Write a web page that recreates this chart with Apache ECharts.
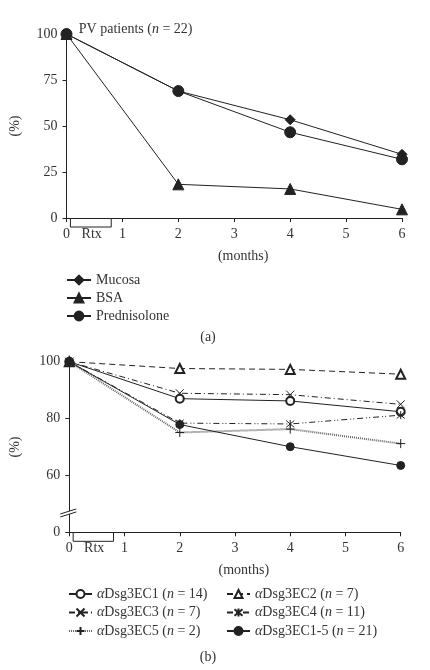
<!DOCTYPE html>
<html><head><meta charset="utf-8">
<script src="https://cdn.jsdelivr.net/npm/echarts@6/dist/echarts.min.js"></script>
<style>html,body{margin:0;padding:0;background:#fff}#c{width:430px;height:670px}</style>
</head><body><div id="c"></div>
<script>
// ---- data: panel (a)
const monthsA = [0, 2, 4, 6];
const mucosa = [100, 69, 53.4, 34.6];
const bsa = [100, 18.3, 15.8, 4.7];
const prednisolone = [100, 69, 46.6, 31.9];
const legendA = ['Mucosa', 'BSA', 'Prednisolone'];

// ---- data: panel (b)
const monthsB = [0, 2, 4, 6];
const ec1 = [100, 87.0, 86.2, 82.4];
const ec2 = [100, 97.6, 97.3, 95.6];
const ec3 = [100, 88.9, 88.4, 85.0];
const ec4 = [100, 78.4, 78.1, 81.2];
const ec5 = [100, 75.1, 76.3, 71.2];
const ec15 = [100, 77.9, 70.1, 63.5];
const namesB = ['αDsg3EC1 (n = 14)', 'αDsg3EC2 (n = 7)', 'αDsg3EC3 (n = 7)',
                'αDsg3EC4 (n = 11)', 'αDsg3EC5 (n = 2)', 'αDsg3EC1-5 (n = 21)'];

// ---- ticks / labels
const xTicks = [0, 1, 2, 3, 4, 5, 6];
const yTicksA = [0, 25, 50, 75, 100];
const yTicksB = [40, 60, 80, 100];   // 40 is shown as "0" (broken axis)
const yTickLabelsB = ['0', '60', '80', '100'];
const xName = '(months)';
const yName = '(%)';
const rtxLabel = 'Rtx';
const panelLabels = ['(a)', '(b)'];

const FONT = '"Liberation Serif", "DejaVu Serif", serif';
const TXT = '#333';
const LINE = '#222';

const pairs = (xs, ys) => xs.map((x, i) => [x, ys[i]]);

const axisCommon = {
  axisLine: { lineStyle: { color: LINE, width: 1 } },
  axisTick: { show: true, inside: false, length: 4, lineStyle: { color: LINE } },
  splitLine: { show: false },
  nameTextStyle: { fontFamily: FONT, fontSize: 14, color: TXT }
};

function xAxis(gi) {
  return Object.assign({}, axisCommon, {
    type: 'value', gridIndex: gi, min: xTicks[0], max: xTicks[xTicks.length - 1], interval: 1,
    axisLabel: { fontFamily: FONT, fontSize: 14, color: TXT, margin: 9 }
  });
}

const chart = echarts.init(document.getElementById('c'), null, { renderer: 'canvas' });

const lineBase = (name, data, gi, symbol, size, lineType, extra) => Object.assign({
  name, type: 'line', xAxisIndex: gi, yAxisIndex: gi, data,
  symbol, symbolSize: size, showAllSymbol: true,
  lineStyle: { color: LINE, width: 1, type: lineType },
  itemStyle: { color: LINE, borderColor: LINE, borderWidth: 1 },
  emphasis: { disabled: true }, animation: false
}, extra || {});

const pathItem = { color: 'rgba(0,0,0,0)', borderColor: LINE, borderWidth: 1 };
const richLegend = { fontFamily: FONT, fontSize: 14, color: TXT, rich: { i: { fontFamily: FONT, fontSize: 14, fontStyle: 'italic', color: TXT } } };
const fmtB = n => n.replace('α', '{i|α}').replace('(n', '({i|n}');

const option = {
  animation: false,
  grid: [
    { left: 66.5, right: 28, top: 34, height: 184 },
    { left: 69.3, right: 29.3, top: 361.7, height: 170.6 }
  ],
  xAxis: [xAxis(0), xAxis(1)],
  yAxis: [
    Object.assign({}, axisCommon, {
      type: 'value', gridIndex: 0, min: yTicksA[0], max: yTicksA[yTicksA.length - 1], interval: 25,
      name: yName, nameLocation: 'middle', nameGap: 44, nameRotate: 90,
      axisLabel: { fontFamily: FONT, fontSize: 14, color: TXT, margin: 9 }
    }),
    Object.assign({}, axisCommon, {
      type: 'value', gridIndex: 1, min: yTicksB[0], max: yTicksB[yTicksB.length - 1], interval: 20,
      name: yName, nameLocation: 'middle', nameGap: 47, nameRotate: 90,
      axisLabel: { fontFamily: FONT, fontSize: 14, color: TXT, margin: 9,
        formatter: v => { const i = yTicksB.indexOf(v); return i >= 0 ? yTickLabelsB[i] : ''; } }
    })
  ],
  legend: [
    { data: legendA, orient: 'vertical', left: 66, top: 273, itemWidth: 24, itemHeight: 11, itemGap: 4,
      padding: 0, selectedMode: false, textStyle: { fontFamily: FONT, fontSize: 14, color: TXT } },
    { data: [namesB[0], namesB[2], namesB[4]], orient: 'vertical', left: 68, top: 587, itemWidth: 23, itemHeight: 10, itemGap: 4.5,
      padding: 0, selectedMode: false, formatter: fmtB, textStyle: richLegend },
    { data: [namesB[1], namesB[3], namesB[5]], orient: 'vertical', left: 226, top: 587, itemWidth: 23, itemHeight: 10, itemGap: 4.5,
      padding: 0, selectedMode: false, formatter: fmtB, textStyle: richLegend }
  ],
  series: [
    lineBase(legendA[0], pairs(monthsA, mucosa), 0, 'diamond', 10, 'solid'),
    lineBase(legendA[1], pairs(monthsA, bsa), 0, 'triangle', 11, 'solid'),
    lineBase(legendA[2], pairs(monthsA, prednisolone), 0, 'circle', 11, 'solid'),

    lineBase(namesB[4], pairs(monthsB, ec5), 1, 'path://M5,0L5,10M0,5L10,5', 9, [1, 1],
      { lineStyle: { color: '#666', width: 2, type: [1, 1] }, itemStyle: pathItem }),
    lineBase(namesB[0], pairs(monthsB, ec1), 1, 'emptyCircle', 8, 'solid'),
    lineBase(namesB[1], pairs(monthsB, ec2), 1, 'emptyTriangle', 9, [6, 4]),
    lineBase(namesB[2], pairs(monthsB, ec3), 1, 'path://M0,0L10,10M10,0L0,10', 8, [6, 3, 1, 3],
      { itemStyle: pathItem }),
    lineBase(namesB[3], pairs(monthsB, ec4), 1, 'path://M0,0L10,10M10,0L0,10M5,-1L5,11', 8, [6, 3, 1, 2, 1, 3],
      { itemStyle: pathItem }),
    lineBase(namesB[5], pairs(monthsB, ec15), 1, 'circle', 8, 'solid')
  ]
};
chart.setOption(option);

// ---- annotations positioned through the axes
const g = [];
function decorate(gi) {
  const base = gi === 0 ? 0 : 40;
  const a = chart.convertToPixel({ gridIndex: gi }, [0.07, base]);
  const b = chart.convertToPixel({ gridIndex: gi }, [0.8, base]);
  g.push({ type: 'polyline', shape: { points: [[a[0], a[1]], [a[0], a[1] + 9], [b[0], b[1] + 9], [b[0], b[1]]] },
    style: { stroke: LINE, lineWidth: 1, fill: null }, silent: true });
  const t = chart.convertToPixel({ gridIndex: gi }, [0.45, base]);
  g.push({ type: 'text', x: t[0], y: t[1] + 16, style: { text: rtxLabel, font: '14px ' + FONT, fill: TXT, align: 'center', verticalAlign: 'middle' }, silent: true });
  const m = chart.convertToPixel({ gridIndex: gi }, [3.16, base]);
  g.push({ type: 'text', x: m[0], y: m[1] + 38, style: { text: xName, font: '14px ' + FONT, fill: TXT, align: 'center', verticalAlign: 'middle' }, silent: true });
  g.push({ type: 'text', x: 208, y: m[1] + (gi === 0 ? 119 : 125), style: { text: panelLabels[gi], font: '14px ' + FONT, fill: TXT, align: 'center', verticalAlign: 'middle' }, silent: true });
}
decorate(0); decorate(1);

// title of panel (a)
const tp = chart.convertToPixel({ gridIndex: 0 }, [0.22, 102.5]);
g.push({ type: 'text', x: tp[0], y: tp[1], silent: true,
  style: { text: '{r|PV patients (}{i|n}{r| = 22)}', verticalAlign: 'middle', align: 'left',
    rich: { r: { font: '14px ' + FONT, fill: TXT }, i: { font: 'italic 14px ' + FONT, fill: TXT } } } });

// axis break marks on panel (b) y-axis
const bp = chart.convertToPixel({ gridIndex: 1 }, [0, 46.8]);
const bx = bp[0], by = bp[1];
g.push({ type: 'polygon', shape: { points: [[bx - 9, by + 1], [bx + 7, by - 4], [bx + 7, by - 1], [bx - 9, by + 4]] },
  style: { fill: '#fff', stroke: null }, silent: true, z: 100 });
g.push({ type: 'line', shape: { x1: bx - 9, y1: by + 1, x2: bx + 7, y2: by - 4 }, style: { stroke: LINE, lineWidth: 1 }, silent: true, z: 101 });
g.push({ type: 'line', shape: { x1: bx - 9, y1: by + 4, x2: bx + 7, y2: by - 1 }, style: { stroke: LINE, lineWidth: 1 }, silent: true, z: 101 });

chart.setOption({ graphic: g });
</script>
</body></html>
